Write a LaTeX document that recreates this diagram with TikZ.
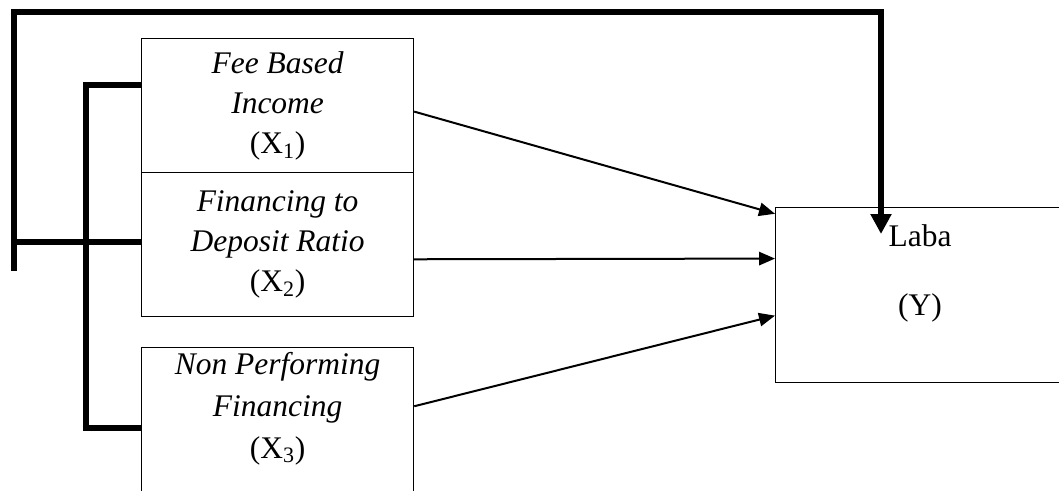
\documentclass[tikz,border=0pt]{standalone}
\usepackage{fontspec}
\setmainfont{Liberation Serif}
\usepackage{tikz}
\usetikzlibrary{arrows.meta,positioning}

\begin{document}
\begin{tikzpicture}[
    x=0.75pt, y=-0.75pt,
    box/.style={rectangle, draw, line width=0.9pt, minimum width=204pt, align=center, inner sep=0pt,
        font=\fontsize{23.6}{30}\selectfont},
    arrow/.style={line width=1.5pt, -{Triangle[length=12pt,width=10pt]}},
    thickline/.style={line width=4.2pt}
]
\useasboundingbox (0,0) rectangle (1059,490);

\node [box, minimum height=100.5pt, anchor=north west] (fbi) at (141,38) {\textit{Fee Based}\\\textit{Income}\\(X\textsubscript{1})};
\node [box, minimum height=108pt, anchor=north west] (fdr) at (141,172) {\textit{Financing to}\\\textit{Deposit Ratio}\\(X\textsubscript{2})};
\node [box, minimum height=109pt, anchor=north west, text depth=23pt] (npf) at (141,347) {\textit{Non Performing}\\[1.5pt]\textit{Financing}\\[1.5pt](X\textsubscript{3})};
\node [box, minimum width=260pt, minimum height=131.25pt, anchor=north west] (laba) at (775,207) {};
\node [font=\fontsize{23.6}{30}\selectfont, align=center, anchor=north, inner sep=0pt] (labatext) at (920,224) {Laba\\[21.75pt](Y)};

% garis moderasi
\coordinate (outbot) at (14,268);
\coordinate (outtop) at (14,12);
\coordinate (outright) at (881,12);
\coordinate (tip) at (881,234);
\draw [thickline, line cap=rect] (outbot) -- (outtop) -- (outright) -- ([yshift=1pt]outright |- laba.north);
\draw [line width=4.2pt, -{Triangle[length=15pt,width=15pt]}] ([yshift=1pt]outright |- laba.north) -- (tip);
\draw [thickline] (11,242) -- (fdr.west |- 0,242);

% kurung kiri
\coordinate (brtop) at (86,85);
\coordinate (brbot) at (86,428);
\draw [thickline] (fbi.west |- brtop) -- (brtop) -- (brbot) -- (npf.west |- brbot);

\draw [arrow] ([yshift=-4.5pt]fbi.east) -- ([yshift=61pt]laba.west);
\draw [arrow] ([yshift=-11pt]fdr.east) -- ([yshift=27.4pt]laba.west);
\draw [arrow] ([yshift=10.5pt]npf.east) -- ([yshift=-15.4pt]laba.west);

\end{tikzpicture}
\end{document}
